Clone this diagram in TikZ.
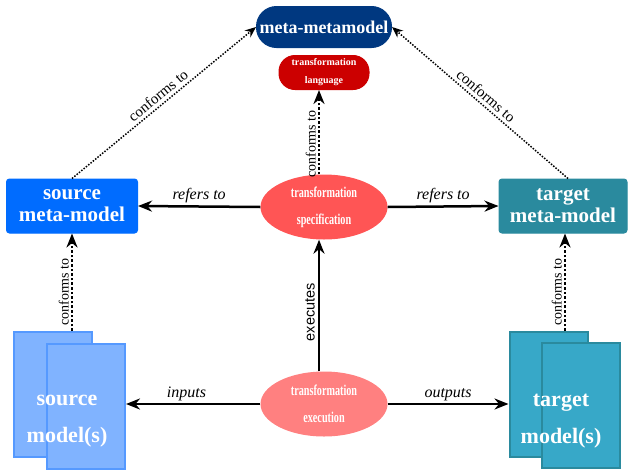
\documentclass[tikz,border=0pt]{standalone}
\usepackage{fontspec}
\setmainfont{Liberation Serif}
\newfontfamily\labelsans{Liberation Sans}
\newfontfamily\narrowserif[FakeStretch=0.68]{Liberation Serif}
\usepackage{tikz}
\usetikzlibrary{positioning,shapes.geometric,arrows.meta}
\usepackage{xcolor}
\definecolor{metablue}{RGB}{0,56,128}
\definecolor{langred}{RGB}{204,0,0}
\definecolor{srcblue}{RGB}{0,108,255}
\definecolor{tgtteal}{RGB}{42,138,158}
\definecolor{specred}{RGB}{255,85,85}
\definecolor{execpink}{RGB}{255,128,128}
\definecolor{srcpale}{RGB}{128,179,255}
\definecolor{srcedge}{RGB}{85,153,255}
\definecolor{tgtpale}{RGB}{55,168,200}
\definecolor{tgtedge}{RGB}{42,138,158}

\begin{document}
\begin{tikzpicture}[x=1pt, y=-1pt, >={Stealth[length=14pt,width=11pt]},
    box/.style={draw, rounded corners=3pt, line width=1pt, text=white, align=center, inner sep=0pt, font=\bfseries\fontsize{21}{22}\selectfont},
    pile/.style={draw, line width=2pt, inner sep=0pt, minimum width=78pt, minimum height=125pt},
    blob/.style={ellipse, inner sep=0pt, text=white, align=center, minimum width=127pt, minimum height=65pt, font=\narrowserif\bfseries\fontsize{15}{27}\selectfont},
    pilelabel/.style={text=white, align=center, font=\bfseries\fontsize{22}{37}\selectfont},
    link/.style={->, line width=2.5pt},
    conf/.style={->, line width=2.6pt, dash pattern=on 2.6pt off 2pt},
    diag/.style={->, line width=1.5pt, dash pattern=on 1.5pt off 1.5pt, >={Stealth[length=11pt,width=9pt]}},
    lab/.style={font=\itshape\fontsize{16}{16}\selectfont, inner sep=2pt},
    conflab/.style={font=\fontsize{14}{14}\selectfont, inner sep=2pt}]
    \useasboundingbox (0,0) rectangle (628,471);
    \node[box, fill=metablue, draw=metablue, rounded corners=20pt, minimum width=135pt, minimum height=41pt, font=\bfseries\fontsize{18}{18}\selectfont] (metameta) at (324,27) {meta-metamodel};
    \node[box, fill=langred, draw=langred, rounded corners=16pt, minimum width=90pt, minimum height=34pt, font=\bfseries\fontsize{10}{18}\selectfont, below=7pt of metameta] (translang) {transformation\\language};
    \node[box, fill=srcblue, draw=srcblue, minimum width=131pt, minimum height=54pt] (srcmeta) at (72,206) {source\\meta-model};
    \node[box, fill=tgtteal, draw=tgtteal, minimum width=128pt, minimum height=54pt] (tgtmeta) at (563,206) {target\\meta-model};
    \node[blob, fill=specred] (spec) at (324,207) {transformation\\specification};
    \node[blob, fill=execpink] (exec) at (324,404) {transformation\\execution};
    % stacked model sheets
    \node[pile, fill=srcpale, draw=srcedge] (srcback) at (53,394.5) {};
    \node[pile, fill=srcpale, draw=srcedge] (srcfront) at ([xshift=33pt,yshift=-11.5pt]srcback.center) {};
    \node[pilelabel] (srctext) at (67,421) {source\\model(s)};
    \node[pile, fill=tgtpale, draw=tgtedge] (tgtback) at (548.5,394.5) {};
    \node[pile, fill=tgtpale, draw=tgtedge] (tgtfront) at ([xshift=32.5pt,yshift=-11pt]tgtback.center) {};
    \node[pilelabel] (tgttext) at (561,421) {target\\model(s)};
    % conformance
    \draw[diag] (srcmeta.north) -- node[midway, above, sloped, font=\fontsize{15}{15}\selectfont] {conforms to} (metameta.west);
    \draw[diag] ([xshift=5pt]tgtmeta.north) -- node[midway, above, sloped, font=\fontsize{15}{15}\selectfont] {conforms to} (metameta.east);
    \draw[conf] ([xshift=-5pt]spec.north) -- node[pos=0.36, rotate=90, anchor=south, conflab] {conforms to} ([xshift=-5pt]translang.south);
    \draw[conf] (srcmeta.south |- srcback.north) -- node[pos=0.4, rotate=90, anchor=south, conflab] {conforms to} (srcmeta.south);
    \draw[conf] ([xshift=2pt]tgtmeta.south |- tgtback.north) -- node[pos=0.4, rotate=90, anchor=south, conflab] {conforms to} ([xshift=2pt]tgtmeta.south);
    % transformation flow
    \draw[link] (spec.west) -- node[above, lab] {refers to} (srcmeta.east);
    \draw[link] (spec.east) -- node[above, lab] {refers to} (tgtmeta.west);
    \draw[link] ([xshift=-5pt]exec.north) -- node[pos=0.45, rotate=90, anchor=south, inner sep=3pt, font=\labelsans\fontsize{14.5}{14.5}\selectfont] {executes} ([xshift=-5pt]spec.south);
    \draw[link] (exec.west) -- node[pos=0.55, above, lab] {inputs} (exec.west -| srcfront.east);
    \draw[link] (exec.east) -- node[above, lab] {outputs} (exec.east -| tgtback.west);
\end{tikzpicture}
\end{document}
